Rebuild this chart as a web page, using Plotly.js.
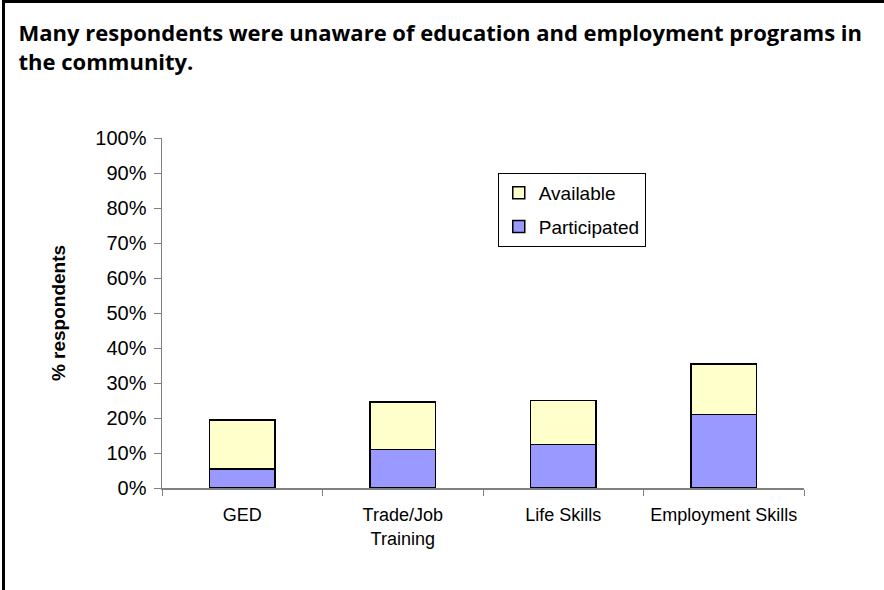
<!DOCTYPE html>
<html>
<head>
<meta charset="utf-8">
<script src="https://cdn.plot.ly/plotly-3.0.1.min.js"></script>
<style>
  body { margin: 0; padding: 0; background: #fff; }
  #wrap { position: relative; width: 884px; height: 590px; }
  #chart { width: 884px; height: 590px; }
  #frame { position: absolute; left: 2px; top: 0; width: 882px; height: 590px;
           border-left: 3px solid #000; border-top: 3px solid #000; box-sizing: border-box; pointer-events: none; }
</style>
</head>
<body>
<div id="wrap">
  <div id="chart"></div>
  <div id="frame"></div>
</div>
<script>
// Data (percent of respondents)
const categories = ["GED", "Trade/Job<br>Training", "Life Skills", "Employment Skills"];
const participated = [5.4, 11.0, 12.5, 21.0];
const availableOnly = [14.0, 13.6, 12.5, 14.5]; // stacked segment above "Participated"
const yTickValues = [0, 10, 20, 30, 40, 50, 60, 70, 80, 90, 100];
const yTickLabels = ["0%", "10%", "20%", "30%", "40%", "50%", "60%", "70%", "80%", "90%", "100%"];

const axisFont = { family: "Arial, 'Liberation Sans', sans-serif", color: "#000" };

const traces = [
  {
    type: "bar", name: "Participated", x: categories, y: participated,
    legendrank: 2, legendgroup: "p",
    marker: { color: "#9999FF", line: { color: "#000", width: 1.5 } },
    hoverinfo: "skip"
  },
  {
    type: "bar", name: "Available", x: categories, y: availableOnly,
    legendrank: 1, legendgroup: "a",
    marker: { color: "#FFFFCC", line: { color: "#000", width: 1.5 } },
    hoverinfo: "skip"
  }
];

const layout = {
  width: 884, height: 590,
  paper_bgcolor: "#fff", plot_bgcolor: "#fff",
  margin: { l: 162, r: 80, t: 138, b: 102, autoexpand: false },
  barmode: "stack",
  bargap: 0.59,
  showlegend: true,
  title: {
    text: "Many respondents were unaware of education and employment programs in<br>the community.",
    font: { family: "'Open Sans', Lato, sans-serif", size: 22, color: "#000", weight: "bold" },
    x: 0.021, xanchor: "left", xref: "container",
    y: 0.93, yanchor: "top", yref: "container"
  },
  xaxis: {
    type: "category",
    tickfont: Object.assign({ size: 18 }, axisFont),
    tickangle: 0,
    showline: true, linecolor: "#808080", linewidth: 1.5,
    ticks: "outside", tickson: "boundaries", ticklen: 6, tickcolor: "#808080",
    ticklabelstandoff: 10,
    showgrid: false, zeroline: false, fixedrange: true
  },
  yaxis: {
    range: [0, 100],
    tickmode: "array", tickvals: yTickValues, ticktext: yTickLabels,
    tickfont: Object.assign({ size: 20 }, axisFont),
    showline: true, linecolor: "#808080", linewidth: 1.5,
    ticks: "outside", ticklen: 7, tickcolor: "#808080",
    ticklabelstandoff: 3,
    showgrid: false, zeroline: false, fixedrange: true,
    title: {
      text: "<b>% respondents</b>",
      font: { family: "Arial, 'Liberation Sans', sans-serif", size: 19, color: "#000" },
      standoff: 24
    }
  },
  legend: {
    x: 0.523, xanchor: "left", y: 0.9, yanchor: "top",
    bgcolor: "#fff", bordercolor: "#000", borderwidth: 1,
    font: { family: "Arial, 'Liberation Sans', sans-serif", size: 19, color: "#000" },
    traceorder: "grouped", tracegroupgap: 6,
    itemwidth: 30
  }
};

Plotly.newPlot("chart", traces, layout, { staticPlot: true, displayModeBar: false });
</script>
</body>
</html>
